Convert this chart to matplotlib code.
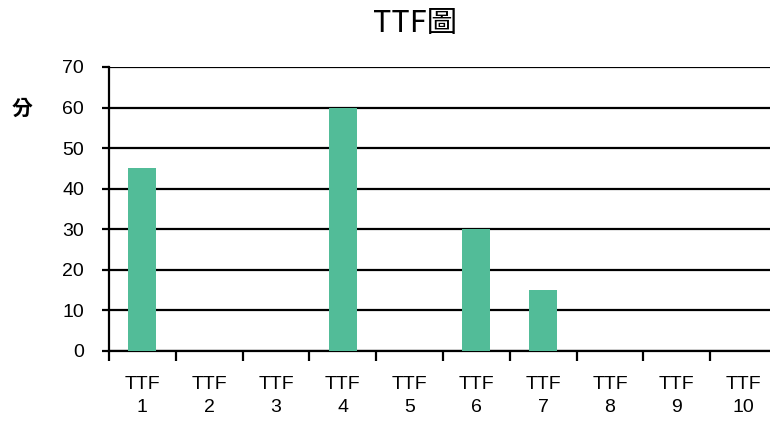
import numpy as np
from matplotlib import pyplot as plt

CATEGORIAS = ["TTF\n1", "TTF\n2", "TTF\n3", "TTF\n4", "TTF\n5",
              "TTF\n6", "TTF\n7", "TTF\n8", "TTF\n9", "TTF\n10"]
VALORES = [45, 0, 0, 60, 0, 30, 15, 0, 0, 0]
Y_TICKS = [0, 10, 20, 30, 40, 50, 60, 70]

plt.rcParams['font.family'] = ['Liberation Sans', 'Noto Sans CJK TC']

fig = plt.figure(figsize=(7.7, 4.21), dpi=100)
ax = fig.add_axes([0.1416, 0.1663, 0.8675, 0.6746])

x = np.arange(len(CATEGORIAS))
ax.bar(x, VALORES, width=0.42, color='#52BC98', zorder=3)

ax.set_xlim(-0.5, len(CATEGORIAS) - 0.5)
ax.set_ylim(0, 70)
ax.set_yticks(Y_TICKS)
ax.yaxis.grid(True, color='black', linewidth=1.6, zorder=1)
ax.set_axisbelow(False)

# ticks en los bordes de cada categoria, etiquetas en el centro
ax.set_xticks(np.arange(len(CATEGORIAS) + 1) - 0.5)
ax.set_xticklabels([])
ax.set_xticks(x, minor=True)
ax.set_xticklabels(CATEGORIAS, minor=True, fontsize=14, linespacing=1.5)
ax.tick_params(axis='x', which='major', length=7, width=1.6, direction='out')
ax.tick_params(axis='x', which='minor', length=0, pad=18)
ax.tick_params(axis='y', length=5, width=1.6, labelsize=14, pad=13)

for lado in ['top', 'right']:
    ax.spines[lado].set_visible(False)
ax.spines['left'].set_linewidth(1.6)
ax.spines['bottom'].set_linewidth(1.6)

fig.text(0.539, 0.945, "TTF圖", ha='center', va='center', fontsize=22,
         family=['Noto Sans CJK TC', 'DejaVu Sans'])
fig.text(0.029, 0.743, "分", ha='center', va='center', fontsize=15,
         fontweight='bold', family=['Noto Sans CJK TC', 'DejaVu Sans'])

fig.savefig("out.png", dpi=100)
